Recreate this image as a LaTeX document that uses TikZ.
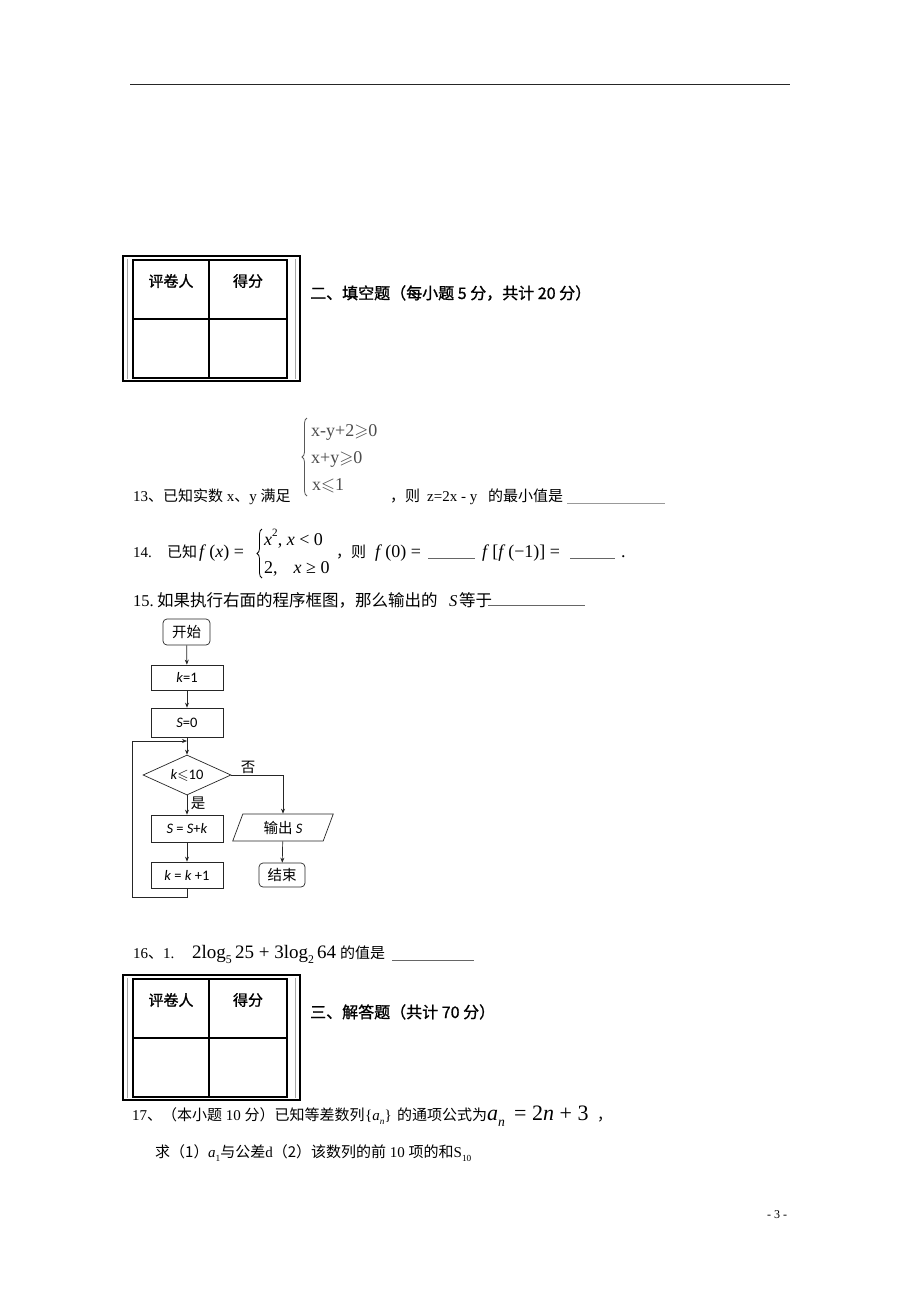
\documentclass[tikz,border=0pt]{standalone}
\usepackage{amsmath,amssymb}
\usepackage{fontspec}
\setmainfont{Liberation Serif}
\newfontfamily\cjk{Noto Sans CJK SC}
\newfontfamily\cjkh[FakeBold=1.2]{Noto Sans CJK SC}
\newfontfamily\carl{Carlito}
\usetikzlibrary{shapes.geometric,arrows.meta,decorations.pathreplacing}
\newcommand\zh[1]{{\cjk #1}}
\newcommand\mi[1]{\textit{#1}}
\newcommand\sbx[1]{\raisebox{-0.28em}{\scalebox{0.62}{#1}}}
\newcommand\spx[1]{\raisebox{0.48em}{\scalebox{0.62}{#1}}}
\begin{document}
\begin{tikzpicture}[x=1pt,y=-1pt,
  txt/.style={anchor=base west, inner sep=0pt, font=\fontsize{15}{17}\selectfont},
  txtb/.style={txt, font=\fontsize{16.5}{18}\selectfont},
  mth/.style={txt, font=\fontsize{18}{20}\selectfont},
  mthb/.style={txt, font=\fontsize{19}{21}\selectfont},
  big/.style={txt, font=\fontsize{22}{24}\selectfont},
  hd/.style={txt, font=\fontsize{16}{18}\selectfont\cjkh},
  cell/.style={inner sep=0pt, font=\fontsize{15}{17}\selectfont\cjkh},
  sys/.style={txt, font=\fontsize{18}{20}\selectfont, text=black!70},
  bracedraw/.style={decorate, decoration={brace, amplitude=5pt}, line width=0.8pt},
  ul/.style={line width=0.7pt, draw=black!60},
  fc/.style={draw=black!85, line width=0.7pt, inner sep=0pt, font=\fontsize{14.5}{16}\selectfont\carl},
  fcbox/.style={fc, rectangle, minimum width=72pt, minimum height=26pt},
  fcround/.style={fc, rectangle, rounded corners=4pt, minimum height=26pt},
  fcdia/.style={fc, diamond, aspect=2.2, minimum width=88pt, minimum height=40pt},
  fcpar/.style={fc, trapezium, trapezium left angle=70, trapezium right angle=110,
    trapezium stretches=true, minimum width=101pt, minimum height=27pt},
  fclab/.style={inner sep=0pt, font=\fontsize{14.5}{16}\selectfont\cjk},
  arr/.style={-{Stealth[length=5pt,width=4pt]}, line width=0.7pt, draw=black!85},
  ln/.style={line width=0.7pt, draw=black!85}]
\useasboundingbox (0,0) rectangle (920,1302);
\fill[white] (0,0) rectangle (920,1302);

% top rule
\coordinate (rl) at (130,84);
\coordinate (rr) at (790,84);
\draw[line width=0.9pt, black!85] (rl) -- (rr);

% score tables
\foreach \dy/\nm in {0/a,719/b}{
\begin{scope}[shift={(0,\dy)}]
  \draw[line width=2.4pt] (123,256) rectangle (300,381);
  \draw[line width=0.5pt, black!35] (127.5,258.5) -- (127.5,378.5) (295.5,258.5) -- (295.5,378.5);
  \draw[line width=1.4pt] (133,260) rectangle (287,378);
  \draw[line width=1.4pt] (209,260) -- (209,378) (133,319) -- (287,319);
  \node[cell] (rev\nm) at (171,281) {评卷人};
  \node[cell] (sc\nm) at (248,281) {得分};
\end{scope}}

\node[hd] (h2) at (310,299) {二、填空题（每小题 5 分，共计 20 分）};
\node[hd] (h3) at (310,1018) {三、解答题（共计 70 分）};

% question 13
\node[txt] (q13a) at (133,501) {13\zh{、已知实数} x\zh{、}y \zh{满足}};
\coordinate (b13a) at (307,496);
\coordinate (b13b) at (307,418);
\draw[bracedraw, draw=black!65] (b13a) -- (b13b);
\node[sys] (s1) at (311,436) {x-y+2$\geqslant$0};
\node[sys] (s2) at (311,463) {x+y$\geqslant$0};
\node[sys] (s3) at (312,490) {x$\leqslant$1};
\node[txt] (q13b) at (390,501) {\zh{，则}};
\node[txt] (q13c) at (427,501) {z=2x - y};
\node[txt] (q13d) at (488,501) {\zh{的最小值是}};
\coordinate (u13a) at (567,503);
\coordinate (u13b) at (665,503);
\draw[ul, draw=black!40] (u13a) -- (u13b);

% question 14
\node[txt] (q14a) at (133,557) {14.};
\node[txt] (q14b) at (167,557) {\zh{已知}};
\node[mth] (q14c) at (199,557) {\mi{f}\,(\mi{x}) =};
\coordinate (b14a) at (262,578);
\coordinate (b14b) at (262,529);
\draw[bracedraw] (b14a) -- (b14b);
\node[mth] (q14d) at (264,545) {\mi{x}\spx{2}, \mi{x} < 0};
\node[mth] (q14e) at (264,573) {2,\hspace{16pt}\mi{x} ≥ 0};
\node[txt] (q14f) at (336,557) {\zh{，则}};
\node[mth] (q14g) at (375,557) {\mi{f}\,(0) =};
\coordinate (u14a) at (428,558);
\coordinate (u14b) at (475,558);
\draw[ul] (u14a) -- (u14b);
\node[mth] (q14h) at (482,557) {\mi{f}\,[\mi{f}\,(−1)] =};
\coordinate (u14c) at (570,558);
\coordinate (u14d) at (615,558);
\draw[ul] (u14c) -- (u14d);
\node[mth] (q14i) at (621,557) {.};

% question 15
\node[txtb] (q15a) at (133,606) {15.};
\node[txtb] (q15b) at (157,606) {\zh{如果执行右面的程序框图，那么输出的}};
\node[txtb] (q15c) at (449,606) {\mi{S}};
\node[txtb] (q15d) at (459,606) {\zh{等于}};
\coordinate (u15a) at (488,605);
\coordinate (u15b) at (585,605);
\draw[ul] (u15a) -- (u15b);

% flowchart
\node[fcround, minimum width=47pt] (start) at (186.5,632) {\zh{开始}};
\node[fcbox, minimum height=25pt] (k1) at (187,677.5) {\textit{k}=1};
\node[fcbox, minimum height=29pt] (s0) at (187,722.5) {\textit{S}=0};
\node[fcdia] (dia) at (187,775) {\textit{k}$\leqslant$10};
\node[fcbox, minimum height=27pt] (upd) at (187,828.5) {\textit{S} = \textit{S}+\textit{k}};
\node[fcbox] (inc) at (187,875) {\textit{k} = \textit{k} +1};
\node[fcpar] (out) at (283,827.5) {\zh{输出} \textit{S}};
\node[fcround, minimum width=46pt, minimum height=24pt] (end) at (282,875) {\zh{结束}};
\node[fclab] (no) at (248,767) {否};
\node[fclab] (yes) at (198,803) {是};
\coordinate (lb) at (132,897);
\coordinate (lt) at (132,741);
\coordinate (jn) at (187,741);
\draw[arr] (start) -- (k1);
\draw[arr] (k1) -- (s0);
\draw[arr] (s0) -- (dia);
\draw[arr] (dia) -- (upd);
\draw[arr] (upd) -- (inc);
\draw[ln] (inc.south) |- (lb) -- (lt);
\draw[arr] (lt) -- (jn);
\draw[arr] (dia.east) -| (out.north);
\draw[arr] (out) -- (end);

% question 16
\node[txt] (q16a) at (133,958) {16\zh{、}1.};
\node[mthb] (q16b) at (192,958) {2log\sbx{5}\,25 + 3log\sbx{2}\,64};
\node[txt] (q16c) at (340,958) {\zh{的值是}};
\coordinate (u16a) at (392,960);
\coordinate (u16b) at (474,960);
\draw[ul] (u16a) -- (u16b);

% question 17
\node[txt] (q17a) at (132,1120) {17\zh{、（本小题} 10 \zh{分）已知等差数列}};
\node[txt] (q17b) at (365,1120) {\{\mi{a}\sbx{\mi{n}}\}};
\node[txt] (q17c) at (397,1120) {\zh{的通项公式为}};
\node[big] (q17d) at (487,1120) {\mi{a}\sbx{\mi{n}} \,= 2\mi{n} + 3};
\node[txt] (q17e) at (597,1120) {\zh{，}};
\node[txt] (q17f) at (155,1157) {\zh{求（1）}};
\node[txt] (q17g) at (208,1157) {\mi{a}\sbx{1}\zh{与公差}d\zh{（2）该数列的前} 10 \zh{项的和}S\sbx{10}};

% page number
\node[inner sep=0pt, font=\fontsize{12}{14}\selectfont] (pg) at (777,1215) {- 3 -};
\end{tikzpicture}
\end{document}
